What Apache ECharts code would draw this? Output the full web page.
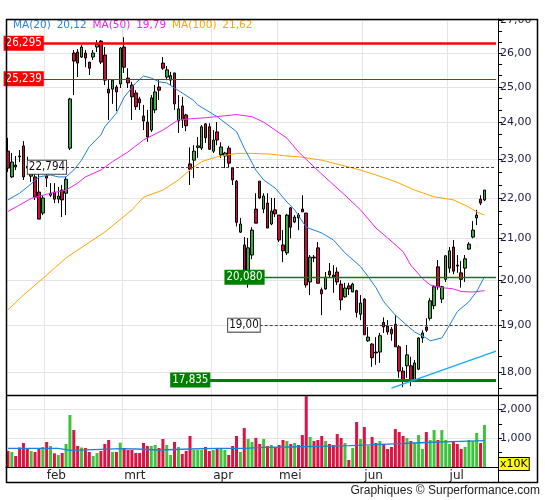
<!DOCTYPE html>
<html lang="nl">
<head>
<meta charset="UTF-8">
<title>Koersgrafiek</title>
<script src="https://cdn.jsdelivr.net/npm/echarts@6/dist/echarts.min.js"></script>
<style>html,body{margin:0;padding:0;background:#fff}</style>
</head>
<body>
<div id="main" style="width:545px;height:500px"></div>
<script>
// dagkoersen: [open, close, laag, hoog]
var candles = [
  [23.22,22.77,22.67,23.58],[22.54,22.93,22.51,23.17],[22.85,22.80,22.72,23.09],[23.09,23.07,22.93,23.25],
  [23.36,22.54,22.46,23.49],[22.82,22.77,22.64,23.07],[22.56,22.77,22.41,22.98],[22.54,22.02,21.95,22.72],
  [22.15,21.47,21.47,22.64],[21.62,22.00,21.57,22.07],[22.56,22.51,22.28,22.64],[22.07,22.12,22.02,22.38],
  [22.15,21.97,21.87,22.38],[21.97,22.05,21.87,22.28],[22.20,21.95,21.52,22.33],[22.12,22.48,21.57,22.54],
  [23.30,24.66,23.25,24.69],[26.00,25.76,24.77,26.09],[26.03,25.70,25.29,26.12],[25.88,26.18,25.85,26.24],
  [26.00,25.85,25.58,26.09],[25.73,25.55,25.35,25.73],[25.88,26.00,25.79,26.09],[26.18,26.27,26.03,26.39],
  [26.36,25.73,25.67,26.39],[25.94,25.20,25.06,26.18],[24.94,24.83,24.07,25.23],[24.94,25.20,24.52,25.23],
  [25.00,24.86,24.32,25.06],[25.09,26.15,24.97,26.18],[26.18,25.58,25.41,26.48],[25.26,25.12,24.97,25.55],
  [25.06,24.72,24.07,25.15],[24.83,24.44,24.35,24.91],[24.66,24.55,24.35,24.72],[24.18,24.04,23.79,24.49],
  [24.01,23.60,23.47,24.35],[23.79,24.69,23.74,24.77],[24.35,24.86,24.26,25.06],[25.00,24.91,24.63,25.20],
  [25.70,25.55,25.50,25.88],[25.29,25.50,25.20,25.61],[25.20,25.33,25.06,25.44],[25.41,24.52,24.35,25.41],
  [24.04,24.38,23.71,24.77],[24.46,24.07,23.85,24.72],[24.21,23.91,23.76,24.24],[22.88,22.74,22.33,23.32],
  [22.98,23.22,22.51,23.38],[23.32,23.36,23.04,23.60],[23.30,23.88,23.25,23.93],[23.96,23.58,23.44,23.98],
  [23.88,23.27,23.25,23.98],[23.22,23.52,23.17,23.79],[23.74,23.52,23.38,24.01],[23.12,23.33,23.04,23.46],
  [23.09,23.17,22.77,23.20],[23.30,22.90,22.77,23.36],[22.77,22.46,22.33,22.80],[22.43,21.39,21.29,22.46],
  [21.15,21.35,21.13,21.50],[20.84,20.01,20.01,21.03],[20.13,20.77,19.84,21.01],[20.60,21.20,20.50,21.27],
  [21.72,21.37,21.37,22.12],[22.43,22.00,21.97,22.43],[21.72,22.05,21.62,22.12],[21.87,21.25,21.25,22.12],
  [21.35,21.67,21.32,22.00],[21.70,21.60,21.52,22.00],[21.57,20.96,20.91,21.57],[20.84,20.70,20.43,21.20],
  [20.65,21.57,20.60,21.60],[21.75,21.27,21.00,21.77],[21.40,21.52,21.37,21.57],[21.57,21.50,21.20,21.62],
  [21.72,21.65,21.65,22.07],[21.62,19.90,19.84,21.62],[19.97,20.55,19.67,20.60],[20.55,20.53,20.43,20.60],
  [20.77,19.94,19.94,20.91],[19.79,19.70,19.22,19.84],[19.81,20.08,19.79,20.20],[20.22,20.13,20.08,20.41],
  [20.13,20.08,19.72,20.36],[20.20,19.97,19.90,20.31],[19.92,19.56,19.33,20.01],[19.63,19.83,19.61,19.95],
  [19.88,19.81,19.67,19.95],[19.74,19.92,19.74,19.95],[19.77,19.28,19.17,19.79],[19.24,19.49,19.11,19.67],
  [19.58,18.79,18.79,19.60],[18.66,18.74,18.64,18.96],[18.59,18.30,18.11,18.61],[18.42,18.40,18.15,18.74],
  [18.42,18.77,18.19,18.83],[19.06,18.96,18.83,19.17],[18.98,18.85,18.79,19.11],[18.91,18.81,18.66,18.96],
  [19.02,18.53,18.53,19.22],[18.53,18.02,17.88,18.57],[18.02,17.82,17.69,18.10],[18.13,18.36,17.88,18.57],
  [18.13,17.82,17.71,18.32],[17.84,18.19,17.80,18.25],[18.06,18.72,18.04,18.74],[18.72,18.83,18.62,18.89],
  [18.96,18.89,18.85,19.15],[19.15,19.54,19.10,19.60],[19.43,19.86,19.35,19.88],[20.32,19.86,19.79,20.48],
  [19.58,19.86,19.49,19.88],[20.03,20.58,19.97,20.60],[20.29,20.70,20.18,20.79],[20.79,20.22,20.15,20.96],
  [20.36,20.34,20.18,20.60],[20.18,20.03,19.84,20.46],[20.29,20.51,19.97,20.60],[20.74,20.86,20.72,20.91],
  [21.03,21.20,21.00,21.42],[21.50,21.57,21.32,21.70],[21.97,21.87,21.82,22.07],[21.95,22.20,21.92,22.20]
];

// volume (x10K)
var volumes = [
  555,520,382,677,833,625,555,520,625,694,
  868,729,474,416,486,798,1804,1284,729,677,
  659,520,382,486,555,798,937,520,520,844,
  659,590,590,486,486,833,729,729,763,659,
  972,763,416,868,694,451,560,1076,590,590,
  590,694,555,590,659,659,590,416,729,1076,
  520,1353,972,868,1010,798,972,729,763,694,
  763,937,902,798,833,763,1110,2460,1041,902,
  937,1076,902,798,763,1145,1006,833,243,659,
  1561,972,1388,729,1041,833,902,798,625,694,
  1318,1214,1076,1006,902,833,1110,625,1214,937,
  1284,937,1284,937,798,880,798,625,694,937,
  902,1180,833,1457
];

var ma20 = [[0,21.95],[3,22.12],[6,22.36],[8,22.54],[11,22.59],[13,22.54],[15,22.54],[17,22.72],[19,22.98],
  [21,23.34],[24,23.66],[25,23.88],[28,24.26],[30,24.71],[33,25.12],[35,25.32],[37,25.26],[39,25.15],
  [41,25.12],[43,24.97],[45,24.83],[48,24.61],[49,24.49],[54,24.16],[59,23.75],[61,23.30],[64,22.72],
  [66,22.46],[69,22.25],[72,21.90],[74,21.70],[77,21.27],[81,21.13],[84,20.96],[87,20.65],[91,20.33],
  [93,20.09],[95,19.84],[97,19.52],[100,19.22],[102,19.07],[105,18.85],[108,18.72],[109,18.66],
  [112,18.72],[114,19.00],[116,19.30],[119,19.52],[121,19.75],[123,20.09]];
var ma50 = [[0,21.66],[3,21.82],[6,21.99],[11,22.12],[15,22.20],[18,22.38],[20,22.54],[24,22.72],[27,22.94],
  [31,23.20],[35,23.52],[40,23.79],[44,24.07],[48,24.11],[51,24.13],[59,24.22],[63,24.16],[66,24.01],
  [69,23.79],[72,23.57],[75,23.20],[79,22.80],[83,22.43],[87,22.07],[91,21.70],[95,21.25],[98,21.01],
  [102,20.68],[104,20.36],[107,20.05],[109,19.90],[112,19.84],[115,19.81],[117,19.75],[120,19.74],[123,19.77]];
var ma100 = [[0,19.34],[4,19.67],[10,20.13],[15,20.53],[20,20.84],[25,21.15],[32,21.70],[35,22.02],[40,22.20],
  [44,22.46],[47,22.72],[50,22.94],[54,23.07],[59,23.16],[63,23.16],[68,23.14],[72,23.09],[75,23.07],
  [81,22.98],[86,22.85],[91,22.72],[95,22.59],[100,22.42],[105,22.20],[110,22.03],[115,21.95],[119,21.77],
  [121,21.65],[123,21.57]];
var volMa = [[0,648],[9,648],[13,579],[16,614],[24,636],[29,625],[33,590],[39,625],[47,648],[54,648],
  [61,683],[66,694],[72,717],[80,740],[88,763],[92,810],[101,833],[105,868],[111,890],[117,914],[123,937]];

var legendNames = ['MA(20)', 'MA(50)', 'MA(100)'];
var legendValues = ['20,12', '19,79', '21,62'];

// koersniveaus en hun startdag
var levels = [26.295, 25.239, 22.794, 20.080, 19.00, 17.835];
var levelLabels = ['26,295', '25,239', '22,794', '20,080', '19,00', '17,835'];
var levelStart = [9, 9, 15, 66, 65, 52];
var trendLine = [[99, 17.67], [126, 18.44]];

var months = ['feb', 'mrt', 'apr', 'mei', 'jun', 'jul'];
var monthStart = [10, 30, 53, 70, 92, 114];
var priceTicks = [18, 19, 20, 21, 22, 23, 24, 25, 26, 27];
var priceMinorTicks = [17.667, 18.333, 18.667, 19.333, 19.667, 20.333, 20.667, 21.333, 21.667,
  22.333, 22.667, 23.333, 23.667, 24.333, 24.667, 25.333, 25.667, 26.333, 26.667];
var volTicks = [500, 1000, 1500, 2000, 2500];
var volLabels = [1000, 2000];
var nDays = 127;

var days = [];
for (var i = 0; i < nDays; i++) days.push(String(i));

var upColor = '#3aae3a', downColor = '#d10a3c';
var volUp = '#3cc43c', volDown = '#dc1446';
var font = 'DejaVu Sans';
var labelFont = '"DejaVu Sans Condensed", "DejaVu Sans"';

function isMonthStart(idx) { return monthStart.indexOf(idx) >= 0; }
function comma(v, d) { return v.toFixed(d).replace('.', ','); }

var levelStyles = [
  {line: {color: '#ff0000', width: 2.5, type: 'solid'}, bg: '#ff0000', fg: '#fff', border: '#ff0000'},
  {line: {color: '#ff0000', width: 1.2, type: 'solid'}, bg: '#ff0000', fg: '#fff', border: '#ff0000'},
  {line: {color: '#444', width: 1, type: [3, 2]}, bg: '#fff', fg: '#111', border: '#444'},
  {line: {color: '#008000', width: 1.3, type: 'solid'}, bg: '#008000', fg: '#fff', border: '#008000'},
  {line: {color: '#444', width: 1, type: [3, 2]}, bg: '#fff', fg: '#111', border: '#444'},
  {line: {color: '#008000', width: 3, type: 'solid'}, bg: '#008000', fg: '#fff', border: '#008000'}
];

var markData = levels.map(function (lv, k) {
  var s = levelStyles[k];
  return [{
    coord: [levelStart[k], lv],
    lineStyle: s.line,
    label: {
      show: true, position: 'start', distance: 0, formatter: levelLabels[k],
      color: s.fg, backgroundColor: s.bg, borderColor: s.border, borderWidth: 1,
      padding: [1, 1, 0, 1], fontSize: 11.5, fontFamily: labelFont
    }
  }, {coord: [nDays - 1, lv]}];
});
markData.push([{coord: trendLine[0], lineStyle: {color: '#14aaf0', width: 1.3, type: 'solid'}, label: {show: false}},
  {coord: trendLine[1]}]);

var volData = volumes.map(function (v, k) {
  var c = candles[k];
  return {value: v, itemStyle: {color: c[1] >= c[0] ? volUp : volDown}};
});

var chart = echarts.init(document.getElementById('main'));
chart.setOption({
  animation: false,
  backgroundColor: '#fff',
  title: [{
    left: 13, top: 20, padding: 0,
    text: '{b|' + legendNames[0] + '}  {b|' + legendValues[0] + '}  {m|' + legendNames[1] + '}  {m|' +
      legendValues[1] + '}  {o|' + legendNames[2] + '}  {o|' + legendValues[2] + '}',
    textStyle: {fontWeight: 'normal', fontSize: 10.5, rich: {
      b: {color: '#2a86dc', fontSize: 10.5, fontWeight: 'normal', fontFamily: font},
      m: {color: '#f020f0', fontSize: 10.5, fontWeight: 'normal', fontFamily: font},
      o: {color: '#ffa500', fontSize: 10.5, fontWeight: 'normal', fontFamily: font}
    }}
  }, {
    right: 5, bottom: 3, padding: 0,
    text: 'Graphiques © Surperformance.com',
    textStyle: {fontSize: 12, fontWeight: 'normal', color: '#222', fontFamily: 'Liberation Sans'}
  }],
  grid: [
    {left: 6, top: 19, width: 492, height: 376},
    {left: 6, top: 395, width: 492, height: 72}
  ],
  xAxis: [{
    type: 'category', gridIndex: 0, data: days, boundaryGap: true,
    axisLine: {show: false}, axisTick: {show: false}, axisLabel: {show: false},
    splitLine: {show: true, interval: isMonthStart, lineStyle: {color: '#e4e4e4'}}
  }, {
    type: 'category', gridIndex: 1, data: days, boundaryGap: true,
    axisLine: {show: true, lineStyle: {color: '#000'}}, axisTick: {show: false},
    axisLabel: {
      interval: isMonthStart, align: 'left', margin: 3, color: '#222', fontSize: 12, fontFamily: font,
      formatter: function (v, idx) { return months[monthStart.indexOf(idx)] || ''; }
    },
    splitLine: {show: true, interval: isMonthStart, lineStyle: {color: '#e4e4e4'}}
  }],
  yAxis: [{
    type: 'log', gridIndex: 0, position: 'right', min: 17.53, max: 27.04,
    axisLine: {show: true, lineStyle: {color: '#000'}},
    axisTick: {show: true, inside: false, length: 4, customValues: priceTicks.concat(priceMinorTicks),
      lineStyle: {color: '#000'}},
    axisLabel: {customValues: priceTicks, margin: 2, color: '#1c1c40', fontSize: 11, fontFamily: font,
      formatter: function (v) { return comma(v, 2); }},
    splitLine: {show: false}
  }, {
    type: 'log', gridIndex: 0, position: 'right', min: 17.53, max: 27.04,
    axisLine: {show: false}, axisLabel: {show: false},
    axisTick: {show: false, customValues: priceTicks},
    splitLine: {show: true, lineStyle: {color: '#e4e4e4'}}
  }, {
    type: 'value', gridIndex: 1, position: 'right', min: 0, max: 2500,
    axisLine: {show: true, lineStyle: {color: '#000'}},
    axisTick: {show: true, inside: false, length: 4, customValues: volTicks, lineStyle: {color: '#000'}},
    axisLabel: {customValues: volLabels, margin: 2, color: '#1c1c40', fontSize: 11, fontFamily: font},
    splitLine: {show: false}
  }, {
    type: 'value', gridIndex: 1, position: 'right', min: 0, max: 2500,
    axisLine: {show: false}, axisLabel: {show: false},
    axisTick: {show: false, customValues: volLabels},
    splitLine: {show: true, lineStyle: {color: '#e4e4e4'}}
  }],
  series: [{
    type: 'candlestick', xAxisIndex: 0, yAxisIndex: 0, data: candles, barWidth: 3,
    itemStyle: {color: upColor, color0: downColor, borderColor: '#000', borderColor0: '#000', borderWidth: 1},
    markLine: {silent: true, symbol: ['none', 'none'], animation: false, data: markData}
  }, {
    type: 'line', xAxisIndex: 0, yAxisIndex: 0, data: ma100, showSymbol: false, silent: true,
    lineStyle: {color: '#ffa500', width: 1}
  }, {
    type: 'line', xAxisIndex: 0, yAxisIndex: 0, data: ma50, showSymbol: false, silent: true,
    lineStyle: {color: '#f020f0', width: 1}
  }, {
    type: 'line', xAxisIndex: 0, yAxisIndex: 0, data: ma20, showSymbol: false, silent: true,
    lineStyle: {color: '#1f80d8', width: 1}
  }, {
    type: 'bar', xAxisIndex: 1, yAxisIndex: 2, data: volData, barWidth: 3
  }, {
    type: 'line', xAxisIndex: 1, yAxisIndex: 2, data: volMa, showSymbol: false, silent: true, step: 'end',
    lineStyle: {color: '#1f80d8', width: 1.3}
  }],
  graphic: [
    {type: 'rect', z: 99, silent: true, shape: {x: 499, y: 6, width: 38, height: 13},
      style: {fill: '#fff', stroke: null}},
    {type: 'rect', z: 100, silent: true, shape: {x: 6.5, y: 19.5, width: 531, height: 463},
      style: {fill: null, stroke: '#000', lineWidth: 1.5}},
    {type: 'line', z: 100, silent: true, shape: {x1: 6, y1: 395.5, x2: 538, y2: 395.5},
      style: {stroke: '#000', lineWidth: 1.5}},
    {type: 'line', z: 100, silent: true, shape: {x1: 498.5, y1: 467, x2: 498.5, y2: 482},
      style: {stroke: '#000', lineWidth: 1}},
    {type: 'text', z: 100, silent: true, left: 498, top: 457,
      style: {text: 'x10K', fill: '#000', font: '11px "DejaVu Sans"', backgroundColor: '#ffff00',
        borderColor: '#000', borderWidth: 1, padding: [1, 1, 0, 1]}}
  ]
});
</script>
</body>
</html>
